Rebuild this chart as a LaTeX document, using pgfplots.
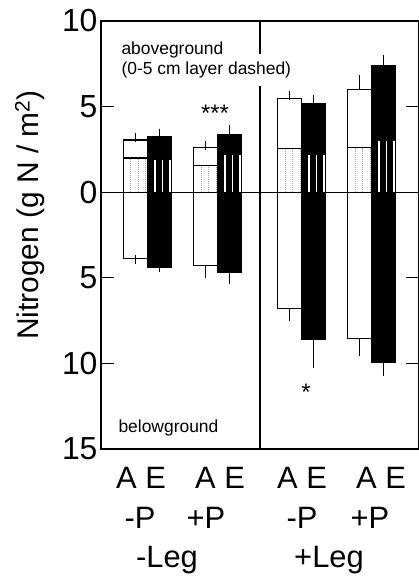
\documentclass[border=0pt]{standalone}
\usepackage{fontspec}
\setmainfont{Liberation Sans}
\usepackage{pgfplots}
\usepackage{pgfplotstable}
\pgfplotsset{compat=1.18}

% aboveground: A (ambient) and E (elevated) bars, with the 0-5 cm layer (dash)
\pgfplotstableread{
ax    atop aerr adash ex    etop eerr edash
34.5  3.05 0.12 2.00  58.5  3.23 0.22 1.87
104.5 2.61 0.09 1.58  128.5 3.35 0.29 2.16
188.5 5.45 0.22 2.55  212.5 5.20 0.19 2.16
258.5 5.98 0.58 2.61  282.5 7.38 0.39 3.00
}\abovetab

% belowground
\pgfplotstableread{
ax    abot  aerr ex    ebot  eerr
34.5  -3.87 0.05 58.5  -4.42 0.00
104.5 -4.26 0.49 128.5 -4.69 0.39
188.5 -6.78 0.48 212.5 -8.59 1.41
258.5 -8.53 0.77 282.5 -9.95 0.52
}\belowtab

\begin{document}
\begin{tikzpicture}
\useasboundingbox (-101bp,-128bp) rectangle (318bp,449bp);
\begin{axis}[
  scale only axis, width=318bp, height=428bp,
  at={(0,0)}, anchor=south west,
  xmin=0, xmax=318, ymin=-15, ymax=10,
  xtick=\empty,
  ytick={-15,-10,-5,0,5,10},
  yticklabels={15,10,5,0,5,10},
  ytick pos=both, yticklabel pos=left,
  tick align=inside, major tick length=13bp,
  axis line style={line width=1.2bp},
  tick style={line width=1.2bp, black},
  tick label style={font=\fontsize{32}{32}\selectfont},
  clip=false,
  error bars/error bar style={line width=1.3bp, black},
  error bars/error mark options={line width=1.3bp, black, mark size=4.5bp},
]
% ---- aboveground A bars
\addplot[ybar, bar width=24, bar shift=0pt, fill=white, draw=black, line width=1.2bp,
  error bars/.cd, y dir=plus, y explicit]
  table[x=ax, y=atop, y error=aerr] {\abovetab};
\addplot[ycomb, gray!70, densely dotted, line width=1bp, xshift=-4.5bp, mark=none] table[x=ax, y=adash] {\abovetab};
\addplot[ycomb, gray!70, densely dotted, line width=1bp, xshift=3bp, mark=none] table[x=ax, y=adash] {\abovetab};
\addplot[ycomb, gray!70, densely dotted, line width=1bp, xshift=10.5bp, mark=none] table[x=ax, y=adash] {\abovetab};
\addplot[ybar, bar width=24, bar shift=0pt, fill=none, draw=black, line width=1.2bp]
  table[x=ax, y=adash] {\abovetab};
% ---- aboveground E bars
\addplot[ybar, bar width=24, bar shift=0pt, fill=black, draw=black, line width=1.2bp,
  error bars/.cd, y dir=plus, y explicit]
  table[x=ex, y=etop, y error=eerr] {\abovetab};
\addplot[ycomb, white, line width=1.6bp, xshift=-4.5bp, mark=none] table[x=ex, y=edash] {\abovetab};
\addplot[ycomb, white, line width=1.6bp, xshift=3bp, mark=none] table[x=ex, y=edash] {\abovetab};
\addplot[ycomb, white, line width=1.6bp, xshift=10.5bp, mark=none] table[x=ex, y=edash] {\abovetab};
% ---- belowground
\addplot[ybar, bar width=24, bar shift=0pt, fill=white, draw=black, line width=1.2bp,
  error bars/.cd, y dir=minus, y explicit]
  table[x=ax, y=abot, y error=aerr] {\belowtab};
\addplot[ybar, bar width=24, bar shift=0pt, fill=black, draw=black, line width=1.2bp,
  error bars/.cd, y dir=minus, y explicit]
  table[x=ex, y=ebot, y error=eerr] {\belowtab};
% ---- zero line and divider
\addplot[black, line width=1.2bp, mark=none] coordinates {(0,0) (318,0)};
\addplot[black, line width=1.2bp, mark=none] coordinates {(159,10) (159,8.06)};
\addplot[black, line width=1.2bp, mark=none] coordinates {(159,6.19) (159,-15)};
% ---- texts
\node[anchor=base west, font=\fontsize{17.5}{20}\selectfont] at (axis cs:17,8.05) {aboveground};
\node[anchor=base west, font=\fontsize{17.5}{20}\selectfont] at (axis cs:17,6.9) {(0-5 cm layer dashed)};
\node[anchor=base west, font=\fontsize{17.5}{20}\selectfont] at (axis cs:14,-14.05) {belowground};
\node[font=\fontsize{24}{24}\selectfont] at (axis cs:114,4.6) {***};
\node[font=\fontsize{24}{24}\selectfont] at (axis cs:205,-11.7) {*};
\path (rel axis cs:0,0.5) ++(-71bp,20bp) node[rotate=90, font=\fontsize{30}{30}\selectfont] {Nitrogen (g N / m\textsuperscript{2})};
\begin{scope}[every node/.style={anchor=base, font=\fontsize{31}{31}\selectfont}]
\node at (axis cs:40,-15) [yshift=-39bp] {A E};
\node at (axis cs:119,-15) [yshift=-39bp] {A E};
\node at (axis cs:201,-15) [yshift=-39bp] {A E};
\node at (axis cs:280,-15) [yshift=-39bp] {A E};
\node at (axis cs:39,-15) [yshift=-79bp] {-P};
\node at (axis cs:105,-15) [yshift=-79bp] {+P};
\node at (axis cs:201,-15) [yshift=-79bp] {-P};
\node at (axis cs:269,-15) [yshift=-79bp] {+P};
\node at (axis cs:66,-15) [yshift=-118bp] {-Leg};
\node at (axis cs:228,-15) [yshift=-118bp] {+Leg};
\end{scope}
\end{axis}
\end{tikzpicture}
\end{document}
